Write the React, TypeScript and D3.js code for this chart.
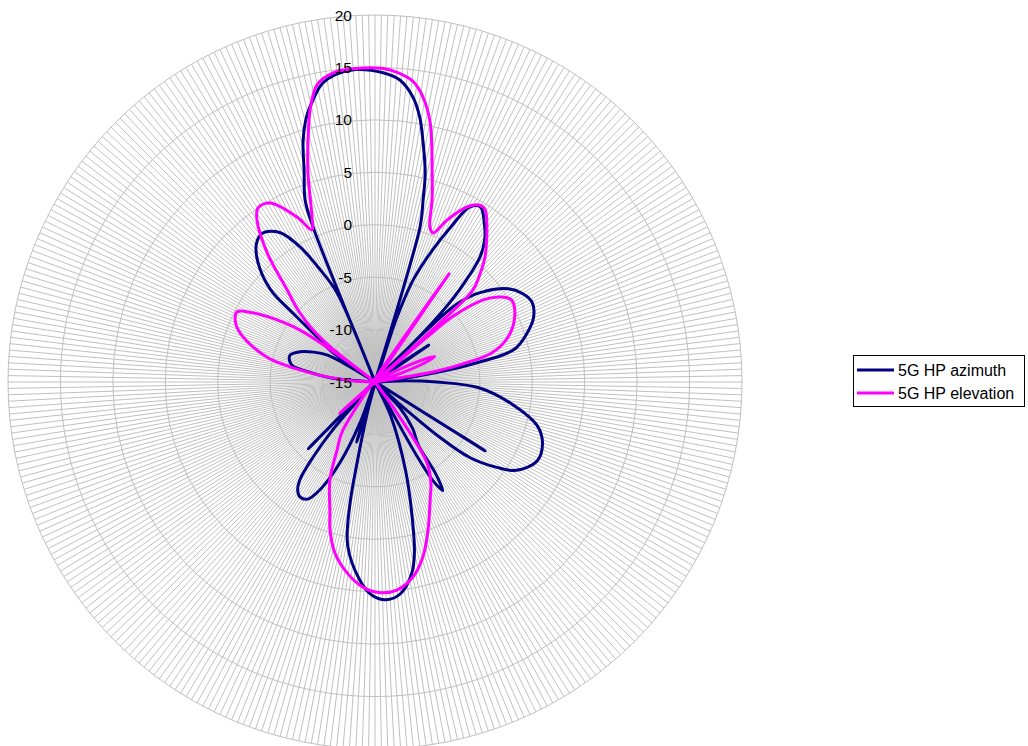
import * as d3 from 'd3';

// axis
const ticks = [-15, -10, -5, 0, 5, 10, 15, 20];
const spokeCount = 360;

// series
const seriesNames = ['5G HP azimuth', '5G HP elevation'];
const seriesColors = ['#000080', '#ff00ff'];

// angle in degrees (clockwise from top), value in dB
const azimuthAngles = [
  1.5, 4.7, 7.6, 9.6, 11.2, 13.5, 14.8, 16.2, 17, 18.5, 19, 20.5, 23.5, 26, 28.5, 31, 34.5, 37.5, 40,
  42.5, 44, 45, 46.5, 50.5, 55, 59, 63, 68, 73, 76.5, 78, 79, 80.5, 82, 84.5, 87.5, 90, 93.3, 99.5,
  105, 110, 116, 122, 125, 128.5, 130.5, 132, 133.5, 136, 141, 145.5, 146.5, 148, 149.5, 150.5, 152,
  155, 161, 165, 167, 169, 173, 177, 181, 184.5, 189.5, 191.5, 192.5, 194, 196, 200, 203.5, 207, 210,
  213, 215.5, 217.5, 219.5, 221.5, 223, 226, 235.5, 245, 260, 272, 275, 278.5, 281, 284, 287.5, 292,
  296, 299.5, 301, 302, 304, 305.5, 307.5, 310, 311.5, 315.5, 319.5, 323, 327.5, 331, 334, 337,
  337.6, 338.2, 339, 341.5, 343.4, 345.5, 347.7, 350, 353, 356.5,
];
const azimuthValues = [
  14.5, 13.9, 12.4, 10.6, 8.5, 5.5, 2.95, 0.4, -21, -9.5, -7.7, -4.6, -1.3, 1.4, 4.0, 4.5, 3.4, 2.2, 0.6,
  -3.1, -7, -24, -4.1, -1.4, 0.5, 1.4, 1.8, 1.3, 0, -1.2, -2.5, -4.5, -7.5, -11, -15, -12, -9.1, -5, -1.6,
  1.0, 2.0, 2.2, 0.9, -0.8, -3.4, -7, -12, -15, -11.6, -9.3, -7.7, -4.6, -2.8, -4.0, -7, -15,
  -11.5, -6, -1.1, 1.7, 3.5, 5.3, 5.8, 5.3, 3.9, 0.8, -2.8, -7.1, -12, -15, -11, -6.6, -3.5, -2.1,
  -1.9, -2.3, -3.2, -5.7, -9, -13, -15, -21.2, -15, -15, -15, -11, -8.7, -7.0, -6.6, -6.5, -7.3,
  -8.5, -9.8, -12, -27.4, -12, -9.5, -8.4, -4.8, -1.7, 0.9, 2.4, 2.8, 1.9, -0.3, -3.1, -5.8,
  -15, 0.8, 3.6, 6.3, 9.0, 11.1, 12.6, 13.9, 14.6, 14.85,
];

const elevationAngles = [
  1.5, 4.1, 7.2, 9.5, 12, 15.3, 17.4, 19.5, 21.3, 24, 27.7, 30.7, 32.6, 35.2, 38, 41.3, 44.5, 46.8, 47.7,
  48.5, 49.2, 50, 53, 56, 59, 65, 71.3, 76, 78, 80, 82, 110, 142, 144.6, 147.3, 151, 154.4, 160.3,
  164.7, 169, 174, 178.6, 183.4, 188.3, 193.2, 196.9, 199, 204.7, 209, 213.7, 214.4, 216, 235, 242,
  245, 247, 249, 252, 258, 270, 274, 278.4, 283, 290, 294, 297, 299.5, 302, 304.7, 306.5, 307.2, 308,
  310, 313, 316.3, 320.1, 323.9, 326.1, 329.6, 334.7, 337.5, 339.1, 342.2, 344.5, 346.7, 349, 352.3,
  356.5,
];
const elevationValues = [
  14.9, 14.6, 13.9, 12.6, 10.3, 5.66, 3.2, 0.69, 0.25, 1.9, 3.85, 4.6, 4.5, 3.5, 2.3, 0.9, -0.8, -2.2, -8,
  -19.5, -8.6, -5.1, -1.9, -0.5, 0.2, -0.3, -1.6, -3.5, -5.9, -9, -15, -15, -15, -11.4, -5.8, -4.0, -2.8, 0,
  2.3, 3.95, 4.95, 5.1, 4.6, 3.4, 1.75, -0.25, -1.8, -4.7, -7.5, -9.5, -27.5, -15, -15, -17,
  -20, -21.2, -20, -17, -15, -15, -12.3, -8.4, -4.4, -1.3, -0.4, -0.25, -1.6, -3.6, -6.3, -11, -15, -10,
  -7.3, -5, -2.9, 1.0, 4.1, 5.0, 4.8, 2.4, 0.7, 1.84, 5.9, 8.9, 11.8, 13.9, 14.75,
  14.95,
];

const W = 1028;
const H = 746;
const cx = 375;
const cy = 382;
const R = 367;
const grid = '#c0c0c0';
const font = 'Arial, "Liberation Sans", sans-serif';

export default function App() {
  const r = d3.scaleLinear().domain([-15, 20]).range([0, R]);

  const line = d3
    .lineRadial<[number, number]>()
    .angle(d => (d[0] * Math.PI) / 180)
    .radius(d => r(d[1]))
    .curve(d3.curveCatmullRomClosed.alpha(0.5));

  const series = [
    d3.zip(azimuthAngles, azimuthValues) as [number, number][],
    d3.zip(elevationAngles, elevationValues) as [number, number][],
  ];

  const spokes = d3.range(spokeCount).map(i => (i * 2 * Math.PI) / spokeCount);

  return (
    <>
      <style>{`body{margin:0;overflow:hidden}`}</style>
      <svg width={W} height={H} style={{ display: 'block', background: '#fff' }}>
        <g transform={`translate(${cx},${cy})`}>
          {spokes.map((a, i) => (
            <line
              key={i}
              x1={0}
              y1={0}
              x2={R * Math.sin(a)}
              y2={-R * Math.cos(a)}
              stroke={grid}
              strokeWidth={1}
            />
          ))}
          {ticks.slice(1).map(t => (
            <circle key={t} r={r(t)} fill="none" stroke={grid} strokeWidth={1} />
          ))}
          {series.map((s, i) => (
            <path
              key={i}
              d={line(s) ?? ''}
              fill="none"
              stroke={seriesColors[i]}
              strokeWidth={3}
              strokeLinejoin="round"
            />
          ))}
          {ticks.map(t => (
            <text
              key={t}
              x={-23}
              y={-r(t)}
              textAnchor="end"
              dominantBaseline="central"
              fontFamily={font}
              fontSize={15.5}
              fill="#000"
            >
              {t}
            </text>
          ))}
        </g>
        <g>
          <rect x={853.5} y={355.5} width={171} height={51} fill="#fff" stroke="#000" strokeWidth={1} />
          {seriesNames.map((n, i) => (
            <g key={n} transform={`translate(0,${370 + i * 23})`}>
              <line x1={857} x2={894} y1={0} y2={0} stroke={seriesColors[i]} strokeWidth={3} />
              <text x={898} y={0} dominantBaseline="central" fontFamily={font} fontSize={16} fill="#000">
                {n}
              </text>
            </g>
          ))}
        </g>
      </svg>
    </>
  );
}
